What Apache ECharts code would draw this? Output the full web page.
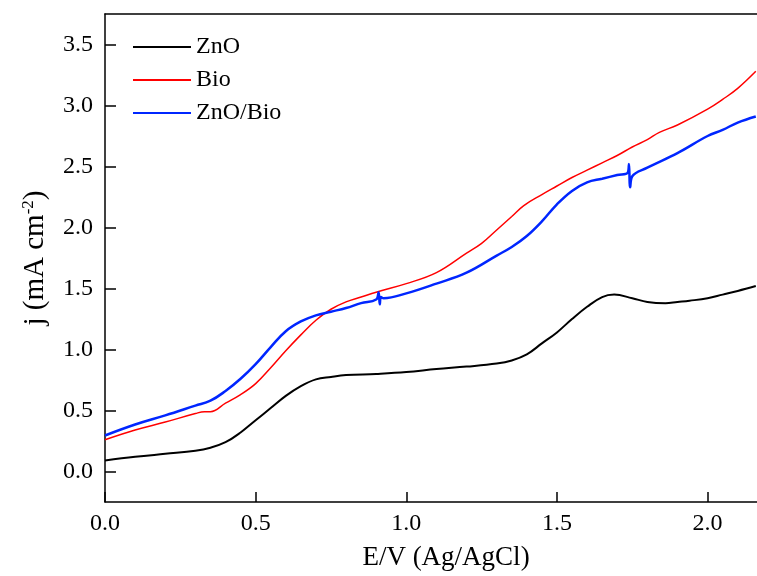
<!DOCTYPE html>
<html>
<head>
<meta charset="utf-8">
<script src="https://cdn.jsdelivr.net/npm/echarts@6/dist/echarts.min.js"></script>
<style>
	html, body { margin: 0; padding: 0; background: #fff; }
	#main { width: 757px; height: 576px; }
</style>
</head>
<body>
<div id="main"></div>
<script>
	// ZnO
	var znoX = [0, 0.1, 0.2, 0.3, 0.35, 0.4, 0.45, 0.5, 0.55, 0.6, 0.65, 0.7, 0.75, 0.8, 0.9, 1.0, 1.1, 1.2, 1.3, 1.35, 1.4, 1.45, 1.5, 1.55, 1.6, 1.65, 1.69, 1.75, 1.8, 1.86, 1.9, 1.94, 2.0, 2.05, 2.1, 2.16];
	var znoY = [0.09, 0.12, 0.145, 0.17, 0.195, 0.24, 0.32, 0.42, 0.52, 0.62, 0.70, 0.755, 0.775, 0.79, 0.80, 0.815, 0.84, 0.86, 0.885, 0.91, 0.96, 1.05, 1.14, 1.25, 1.35, 1.43, 1.45, 1.42, 1.39, 1.38, 1.39, 1.40, 1.42, 1.45, 1.48, 1.52];

	// Bio
	var bioX = [0, 0.1, 0.2, 0.3, 0.33, 0.35, 0.4, 0.45, 0.5, 0.55, 0.6, 0.65, 0.7, 0.75, 0.8, 0.85, 0.9, 1.0, 1.1, 1.2, 1.25, 1.3, 1.35, 1.39, 1.45, 1.5, 1.55, 1.6, 1.65, 1.7, 1.75, 1.8, 1.84, 1.9, 2.0, 2.05, 2.1, 2.16];
	var bioY = [0.26, 0.34, 0.405, 0.475, 0.49, 0.49, 0.56, 0.63, 0.72, 0.85, 0.99, 1.12, 1.24, 1.33, 1.39, 1.43, 1.47, 1.54, 1.63, 1.79, 1.87, 1.98, 2.09, 2.18, 2.27, 2.34, 2.41, 2.47, 2.53, 2.59, 2.66, 2.72, 2.78, 2.84, 2.97, 3.05, 3.14, 3.28];

	// ZnO/Bio
	var mixX = [0, 0.1, 0.2, 0.3, 0.35, 0.4, 0.45, 0.5, 0.55, 0.6, 0.65, 0.7, 0.75, 0.8, 0.85, 0.9, 0.908, 0.912, 0.916, 0.925, 1.0, 1.1, 1.2, 1.3, 1.35, 1.4, 1.45, 1.5, 1.55, 1.6, 1.65, 1.7, 1.735, 1.739, 1.743, 1.75, 1.8, 1.9, 2.0, 2.05, 2.1, 2.16];
	var mixY = [0.295, 0.385, 0.46, 0.54, 0.58, 0.66, 0.76, 0.88, 1.02, 1.15, 1.23, 1.28, 1.31, 1.34, 1.38, 1.41, 1.47, 1.37, 1.43, 1.42, 1.46, 1.54, 1.63, 1.77, 1.84, 1.93, 2.05, 2.19, 2.30, 2.37, 2.40, 2.43, 2.45, 2.52, 2.33, 2.42, 2.49, 2.61, 2.75, 2.80, 2.86, 2.91];

	var xTicks = [0, 0.5, 1.0, 1.5, 2.0];
	var yTicks = [0, 0.5, 1.0, 1.5, 2.0, 2.5, 3.0, 3.5];

	function pairs(xs, ys) {
		return xs.map(function(x, i) { return [x, ys[i]]; });
	}

	var FONT = '"Liberation Serif", "Times New Roman", serif';

	var option = {
		"animation": false,
		"backgroundColor": "#fff",
		"grid": {
			"left": 105,
			"top": 14,
			"bottom": 74,
			"right": 0
		},
		"legend": {
			"orient": "vertical",
			"left": 128,
			"top": 30,
			"icon": "rect",
			"itemWidth": 58,
			"itemHeight": 2,
			"itemGap": 9,
			"textStyle": {
				"fontFamily": FONT,
				"fontSize": 24,
				"color": "#000"
			},
			"data": ["ZnO", "Bio", "ZnO/Bio"]
		},
		"xAxis": [{
			"type": "value",
			"min": 0,
			"max": 2.164,
			"name": "E/V (Ag/AgCl)",
			"nameLocation": "middle",
			"nameGap": 42,
			"nameTextStyle": {
				"fontFamily": FONT,
				"fontSize": 27,
				"color": "#000",
				"padding": [0, 0, 0, 30]
			},
			"splitLine": { "show": false },
			"axisLine": { "onZero": false, "lineStyle": { "color": "#000", "width": 1.5 } },
			"axisTick": {
				"inside": true,
				"length": 10,
				"customValues": xTicks,
				"lineStyle": { "color": "#000", "width": 1.5 }
			},
			"axisLabel": {
				"customValues": xTicks,
				"margin": 10,
				"fontFamily": FONT,
				"fontSize": 24,
				"color": "#000",
				"formatter": function(v) { return v.toFixed(1); }
			}
		}, {
			"type": "value",
			"position": "top",
			"min": 0,
			"max": 2.164,
			"splitLine": { "show": false },
			"axisLine": { "onZero": false, "lineStyle": { "color": "#000", "width": 1.5 } },
			"axisTick": { "show": false },
			"axisLabel": { "show": false }
		}],
		"yAxis": {
			"type": "value",
			"min": -0.25,
			"max": 3.75,
			"name": "{a|j (mA cm}{b|-2}{a|)}",
			"nameLocation": "middle",
			"nameGap": 55,
			"nameTextStyle": {
				"rich": {
					"a": { "fontFamily": FONT, "fontSize": 29, "color": "#000" },
					"b": { "fontFamily": FONT, "fontSize": 17, "color": "#000", "padding": [0, 0, 13, 0] }
				}
			},
			"splitLine": { "show": false },
			"axisLine": { "onZero": false, "lineStyle": { "color": "#000", "width": 1.5 } },
			"axisTick": {
				"inside": true,
				"length": 11,
				"customValues": yTicks,
				"lineStyle": { "color": "#000", "width": 1.5 }
			},
			"axisLabel": {
				"customValues": yTicks,
				"margin": 12,
				"fontFamily": FONT,
				"fontSize": 24,
				"color": "#000",
				"formatter": function(v) { return v.toFixed(1); }
			}
		},
		"series": [{
			"name": "ZnO",
			"type": "line",
			"symbol": "none",
			"smooth": 0.4,
			"color": "#000",
			"lineStyle": { "color": "#000", "width": 2 },
			"data": pairs(znoX, znoY)
		}, {
			"name": "Bio",
			"type": "line",
			"symbol": "none",
			"smooth": 0.4,
			"color": "#ff0000",
			"lineStyle": { "color": "#ff0000", "width": 1.5 },
			"data": pairs(bioX, bioY)
		}, {
			"name": "ZnO/Bio",
			"type": "line",
			"symbol": "none",
			"smooth": 0.4,
			"color": "#0026ff",
			"lineStyle": { "color": "#0026ff", "width": 2.5 },
			"data": pairs(mixX, mixY)
		}]
	};

	var chart = echarts.init(document.getElementById('main'));
	chart.setOption(option);
</script>
</body>
</html>
